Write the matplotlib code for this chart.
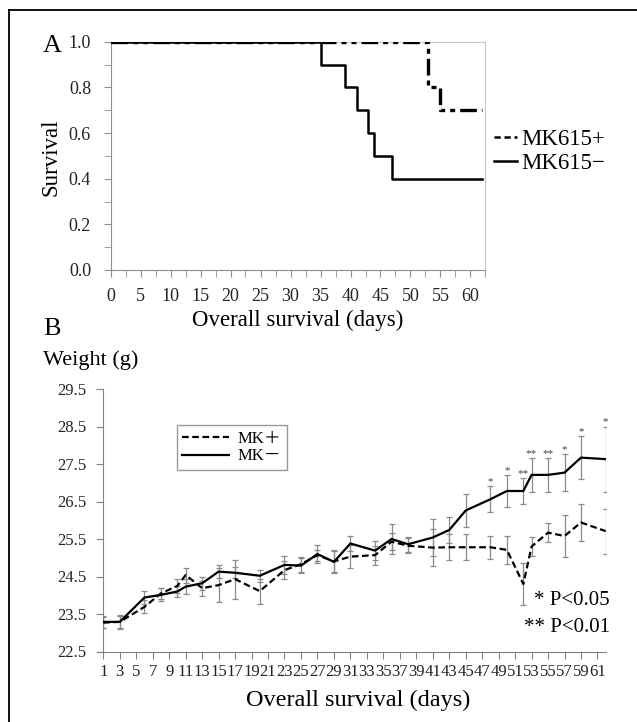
import numpy as np
import matplotlib.pyplot as plt
from matplotlib.lines import Line2D
from matplotlib.ticker import MultipleLocator

plt.rcParams["font.family"] = ["Liberation Serif", "Noto Sans CJK JP"]

# panel A: survival curves (step data)
km_days_pos = [0, 53, 55, 62]
km_surv_pos = [1.0, 0.8, 0.7, 0.7]
km_days_neg = [0, 35, 39, 41, 43, 44, 47, 62]
km_surv_neg = [1.0, 0.9, 0.8, 0.7, 0.6, 0.5, 0.4, 0.4]

# panel B: body weight by day
days = [1, 3, 6, 8, 10, 11, 13, 15, 17, 20, 23, 25, 27, 29, 31, 34, 36, 38,
        41, 43, 45, 48, 50, 52, 53, 55, 57, 59, 62]
w_pos = [23.27, 23.29, 23.69, 24.05, 24.25, 24.54, 24.19, 24.27, 24.43, 24.11,
         24.67, 24.83, 25.07, 24.90, 25.03, 25.07, 25.43, 25.32, 25.27, 25.28,
         25.28, 25.28, 25.21, 24.30, 25.30, 25.67, 25.58, 25.94, 25.71]
w_pos_err = [0.15, 0.18, 0.17, 0.15, 0.18, 0.20, 0.20, 0.45, 0.52, 0.33,
             0.25, 0.20, 0.15, 0.30, 0.30, 0.25, 0.22, 0.20, 0.50, 0.35,
             0.35, 0.30, 0.38, 0.55, 0.25, 0.25, 0.55, 0.50, 0.60]
w_neg = [23.29, 23.29, 23.94, 24.01, 24.10, 24.23, 24.32, 24.63, 24.60, 24.52,
         24.81, 24.79, 25.10, 24.89, 25.38, 25.19, 25.50, 25.36, 25.54, 25.74,
         26.26, 26.56, 26.78, 26.78, 27.21, 27.21, 27.27, 27.67, 27.63]
w_neg_err = [0.15, 0.15, 0.17, 0.17, 0.15, 0.20, 0.17, 0.18, 0.15, 0.16,
             0.25, 0.20, 0.25, 0.28, 0.20, 0.25, 0.40, 0.20, 0.50, 0.35,
             0.45, 0.35, 0.43, 0.35, 0.45, 0.45, 0.50, 0.58, 0.87]
star_days = [48, 50, 52, 53, 55, 57, 59, 62]
star_marks = ["*", "*", "**", "**", "**", "*", "*", "*"]
day_ticks = list(range(1, 62, 2))

W, H = 637, 722
fig = plt.figure(figsize=(W / 100, H / 100), dpi=100)

# frame lines on top / left like the original figure panel
fig.add_artist(Line2D([9 / W, 1], [1 - 10 / H, 1 - 10 / H], color="black", lw=1.3))
fig.add_artist(Line2D([9 / W, 9 / W], [0, 1 - 10 / H], color="black", lw=1.3))

# ---------- panel A ----------
axA = fig.add_axes([110.5 / W, 1 - 270 / H, 375 / W, 228.3 / H])
axA.step(km_days_neg, km_surv_neg, where="post", color="black", lw=1.8, zorder=3)
axA.step(km_days_pos, km_surv_pos, where="post", color="black", lw=2.4,
         linestyle=(0, (5, 1.5, 1.5, 1.5, 1.5, 1.5)), zorder=4)
axA.set_xlim(0, 62.5)
axA.set_ylim(0, 1.0)
axA.xaxis.set_major_locator(MultipleLocator(5))
axA.xaxis.set_minor_locator(MultipleLocator(2.5))
axA.yaxis.set_major_locator(MultipleLocator(0.2))
axA.yaxis.set_minor_locator(MultipleLocator(0.1))
axA.yaxis.set_major_formatter(plt.FormatStrFormatter("%.1f"))
for s in ["top", "right"]:
    axA.spines[s].set_color("#c8c8c8")
for s in ["left", "bottom"]:
    axA.spines[s].set_color("#909090")
axA.tick_params(which="both", direction="out", color="#909090", labelsize=13,
                labelcolor="#222222")
axA.tick_params(which="major", length=5)
axA.tick_params(which="minor", length=5)
axA.tick_params(axis="x", pad=8)
axA.tick_params(axis="y", pad=9)

fig.text(52 / W, 1 - 52 / H, "A", fontsize=19, ha="center", va="baseline")
fig.text(298 / W, 1 - 320 / H, "Overall survival (days)", fontsize=16.5,
         ha="center", va="center")
fig.text(51 / W, 1 - 157 / H, "Survival", fontsize=16.5, rotation=90,
         ha="center", va="center")

legA = [Line2D([], [], color="black", lw=1.8, linestyle=(0, (2.5, 1.5))),
        Line2D([], [], color="black", lw=1.8)]
fig.legend(legA, ["MK615+", "MK615\u2212"], loc="center left",
           bbox_to_anchor=(494 / W, 1 - 151.5 / H), frameon=False,
           fontsize=16.5, handlelength=1.0, handletextpad=0.2,
           labelspacing=0.15, borderpad=0, borderaxespad=0)

# ---------- panel B ----------
axB = fig.add_axes([103.3 / W, 1 - 651.5 / H, 502.4 / W, 262.5 / H])
axB.errorbar(days, w_neg, yerr=w_neg_err, fmt="none", ecolor="#8a8a8a",
             elinewidth=0.9, capsize=2, capthick=0.9, zorder=2)
axB.errorbar(days, w_pos, yerr=w_pos_err, fmt="none", ecolor="#8a8a8a",
             elinewidth=0.9, capsize=2, capthick=0.9, zorder=2)
axB.plot(days, w_pos, color="black", lw=1.6, linestyle=(0, (3, 1.6)),
         label="MK\uff0b", zorder=3)
axB.plot(days, w_neg, color="black", lw=1.6, label="MK\uff0d", zorder=4)

for d, m in zip(star_days, star_marks):
    i = days.index(d)
    axB.annotate(m, (d, w_neg[i] + w_neg_err[i]), xytext=(0, 0),
                 textcoords="offset points", ha="center", va="bottom",
                 fontsize=8, color="#444444")

axB.set_xlim(1, 62)
axB.set_ylim(22.5, 29.5)
axB.set_xticks(day_ticks)
axB.set_xticklabels([str(d) for d in day_ticks])
axB.set_yticks(np.arange(22.5, 29.6, 1.0))
axB.yaxis.set_major_formatter(plt.FormatStrFormatter("%.1f"))
for s in ["top", "right"]:
    axB.spines[s].set_visible(False)
for s in ["left", "bottom"]:
    axB.spines[s].set_color("#808080")
axB.tick_params(direction="out", length=5, color="#808080", labelsize=12,
                labelcolor="#222222")
axB.tick_params(axis="x", pad=4)
axB.tick_params(axis="y", pad=7)

legB = axB.legend(loc="upper left", bbox_to_anchor=(0.146, 0.863),
                  fontsize=12, handlelength=2.8, handletextpad=0.5,
                  labelspacing=0.1, borderaxespad=0, fancybox=False,
                  edgecolor="#808080", borderpad=0.35)
legB.get_frame().set_linewidth(1.0)

fig.text(52 / W, 1 - 335 / H, "B", fontsize=19, ha="center", va="baseline")
fig.text(43 / W, 1 - 365 / H, "Weight (g)", fontsize=16, ha="left",
         va="baseline")
fig.text(358 / W, 1 - 700 / H, "Overall survival (days)", fontsize=17.5,
         ha="center", va="center")
fig.text(610 / W, 1 - 605 / H, "* P<0.05", fontsize=15, ha="right",
         va="baseline")
fig.text(610 / W, 1 - 632 / H, "** P<0.01", fontsize=15, ha="right",
         va="baseline")

fig.savefig("out.png", dpi=100)
